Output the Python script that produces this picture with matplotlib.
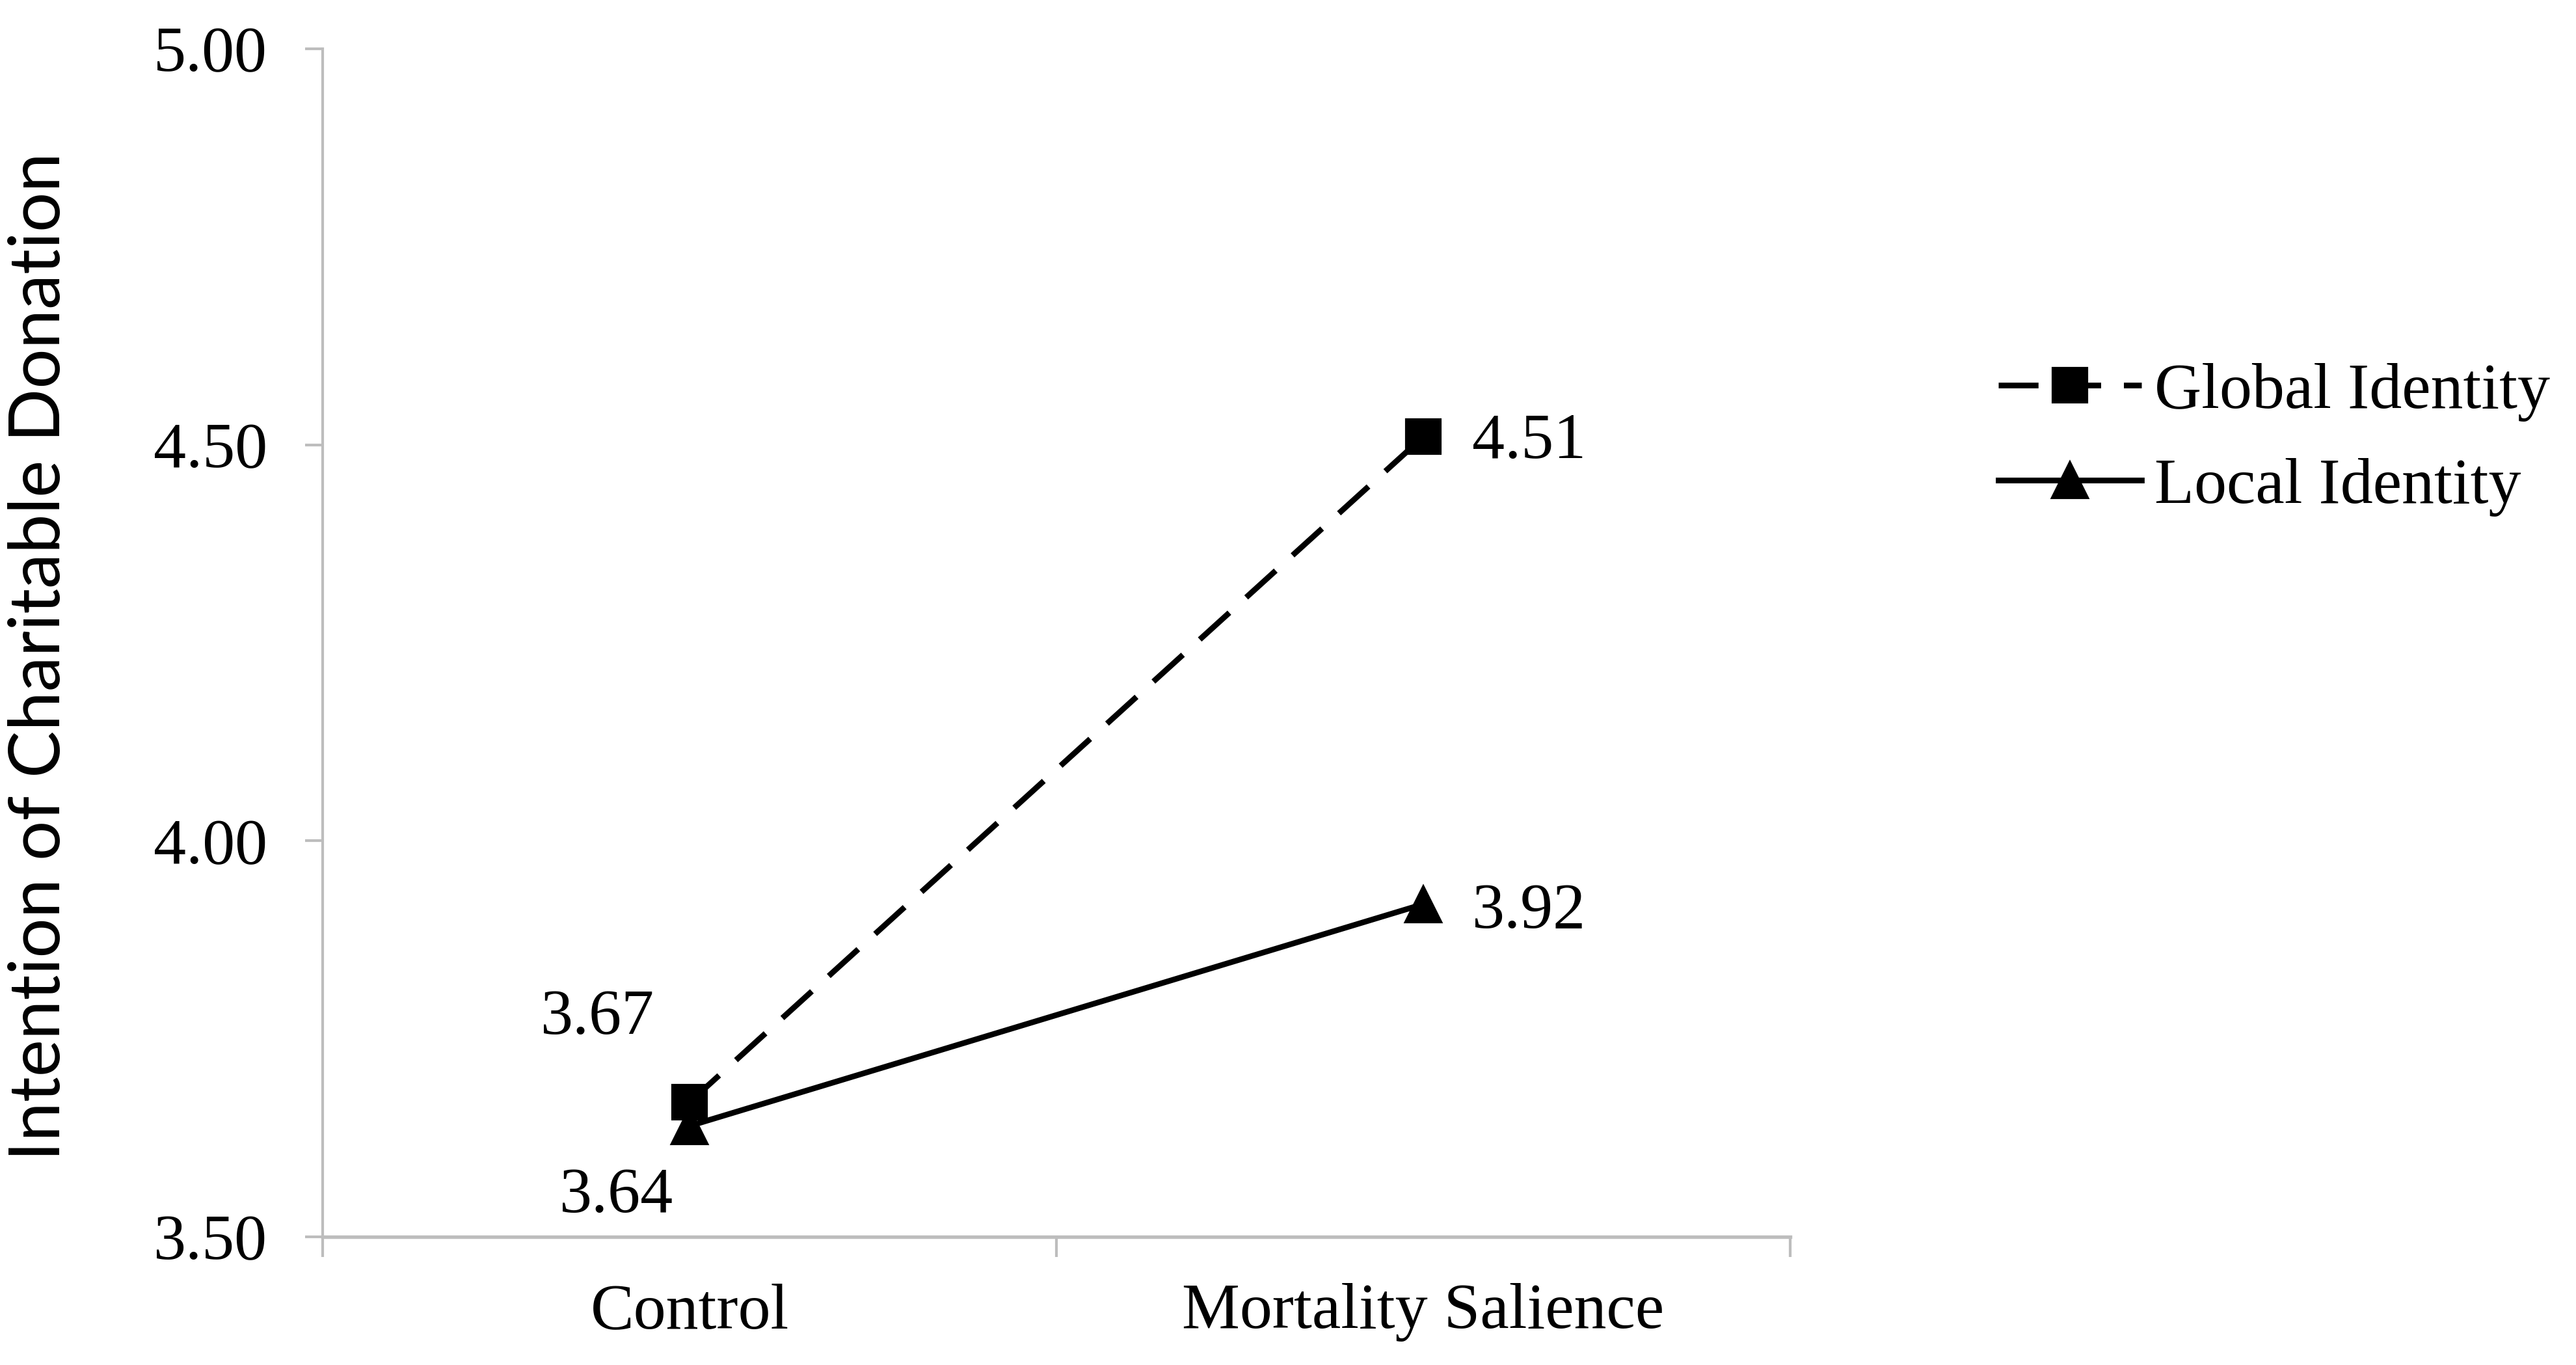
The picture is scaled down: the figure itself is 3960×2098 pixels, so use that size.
"""
Intention of charitable donation: identity x mortality salience
"""
import matplotlib
matplotlib.use('Agg')
import matplotlib.pyplot as plt

matplotlib.rcParams['font.family'] = ['Liberation Serif', 'DejaVu Serif']

# data
conditions = ['Control', 'Mortality Salience']
global_identity = [3.67, 4.51]
local_identity = [3.64, 3.92]
y_ticks = [3.50, 4.00, 4.50, 5.00]
series_names = ['Global Identity', 'Local Identity']
ylabel = 'Intention of Charitable Donation'

axis_grey = '#bdbdbd'

fig = plt.figure(figsize=(13.2, 2098 / 300), dpi=300)
ax = fig.add_axes([0.1253, 0.0939, 0.5696, 0.8704])

x = [i + 0.5 for i in range(len(conditions))]
ax.plot(x, global_identity, color='black', lw=2.1, linestyle=(0, (7, 4)),
        marker='s', markersize=12.5, label=series_names[0])
ax.plot(x, local_identity, color='black', lw=2.1, linestyle='-',
        marker='^', markersize=13, label=series_names[1])

ax.set_xlim(0, len(conditions))
ax.set_ylim(y_ticks[0], y_ticks[-1])

# category boundaries get the ticks, centres get the labels
ax.set_xticks(range(len(conditions) + 1))
ax.set_xticklabels([])
ax.set_xticks(x, minor=True)
ax.set_xticklabels(conditions, minor=True, fontsize=24)
ax.tick_params(axis='x', which='major', length=7.5, width=1.0, color=axis_grey)
ax.tick_params(axis='x', which='minor', length=0, pad=17)

ax.set_yticks(y_ticks)
ax.set_yticklabels([f'{v:.2f}' for v in y_ticks], fontsize=24)
ax.tick_params(axis='y', length=6.5, width=1.0, color=axis_grey, pad=14)

for side in ['top', 'right']:
    ax.spines[side].set_visible(False)
ax.spines['left'].set_color(axis_grey)
ax.spines['left'].set_linewidth(1.0)
ax.spines['bottom'].set_color(axis_grey)
ax.spines['bottom'].set_linewidth(1.3)

# value labels
offsets_global = [(-34, 31, 'center'), (18, -2, 'left')]
offsets_local = [(-27, -26, 'center'), (18, -3, 'left')]
for xi, yi, (dx, dy, ha) in zip(x, global_identity, offsets_global):
    ax.annotate(f'{yi:.2f}', (xi, yi), xytext=(dx, dy), textcoords='offset points',
                ha=ha, va='center', fontsize=24)
for xi, yi, (dx, dy, ha) in zip(x, local_identity, offsets_local):
    ax.annotate(f'{yi:.2f}', (xi, yi), xytext=(dx, dy), textcoords='offset points',
                ha=ha, va='center', fontsize=24)

fig.text(0.0155, 0.519, ylabel, rotation=90, ha='center', va='center',
         fontsize=26, family=['Lato', 'DejaVu Sans'])

fig.legend(loc='center left', bbox_to_anchor=(0.7758, 0.678), frameon=False,
           fontsize=24, handlelength=2.2, handletextpad=0.2, labelspacing=0.55,
           borderpad=0, borderaxespad=0)

fig.savefig('out.png', dpi=300)
plt.close(fig)
